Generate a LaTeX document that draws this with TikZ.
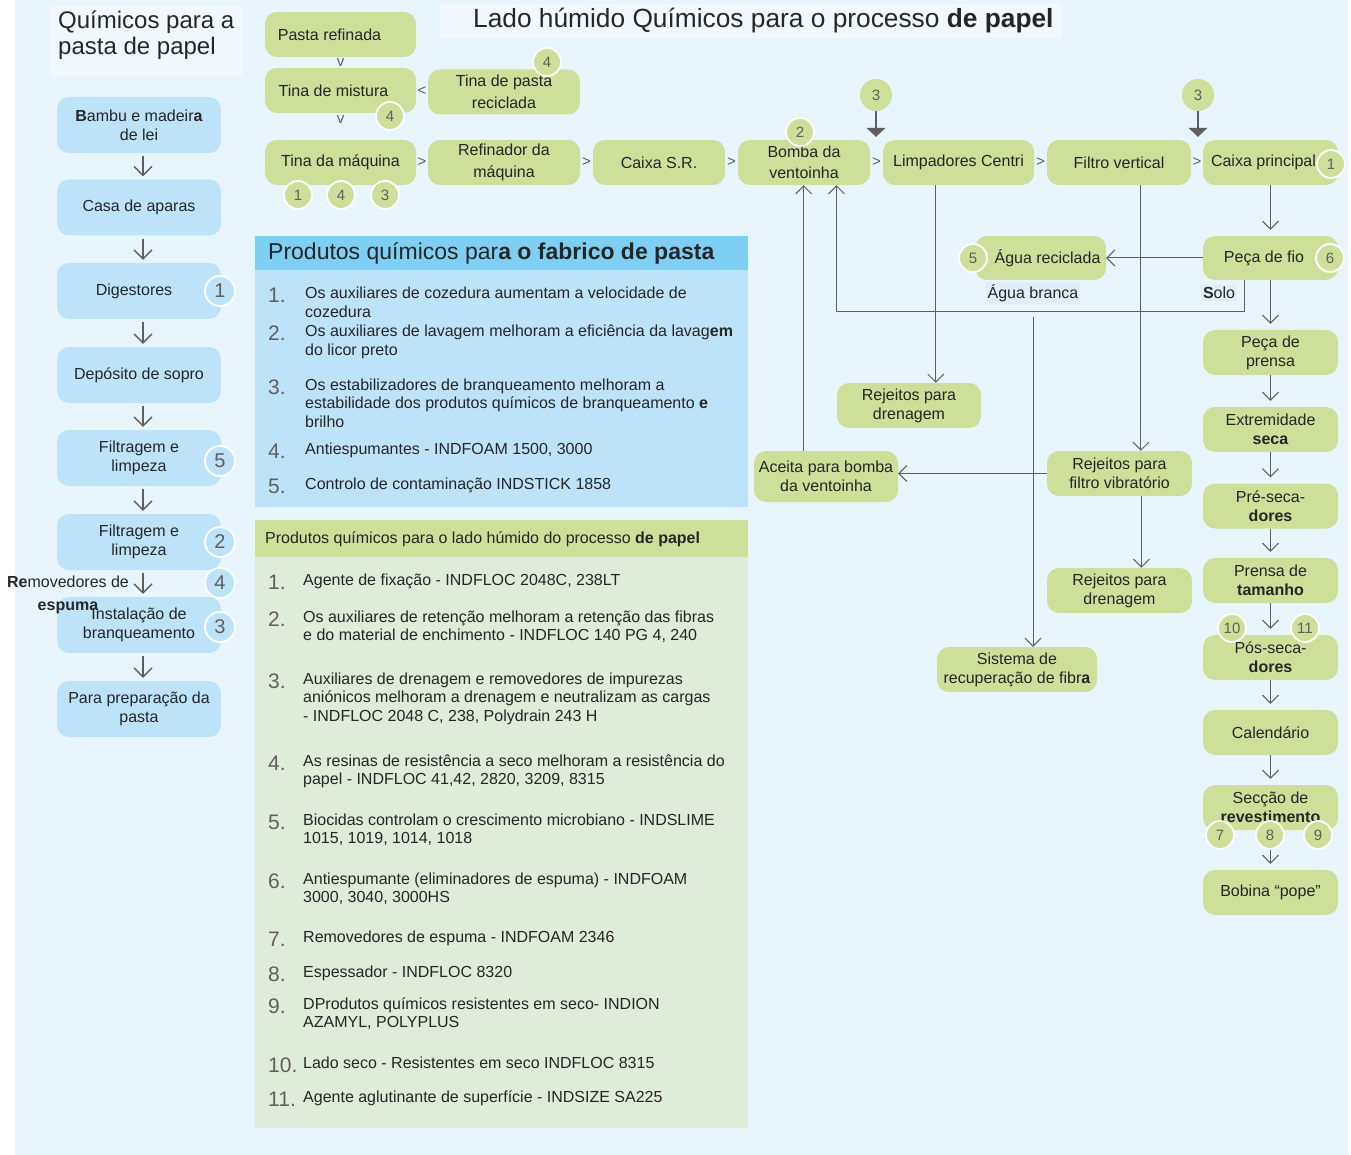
\documentclass[tikz,border=0pt]{standalone}
\usepackage{fontspec}
\setmainfont{Liberation Sans}
\usetikzlibrary{arrows.meta}
\definecolor{pagebg}{RGB}{233,245,253}
\definecolor{titlebg}{RGB}{241,249,254}
\definecolor{tagbg}{RGB}{224,238,250}
\definecolor{pulpblue}{RGB}{189,227,248}
\definecolor{headblue}{RGB}{127,206,244}
\definecolor{wetgreen}{RGB}{205,223,153}
\definecolor{listgreen}{RGB}{223,236,218}
\definecolor{ink}{RGB}{38,38,38}
\definecolor{wire}{RGB}{95,95,95}
\definecolor{digit}{RGB}{95,95,95}

\begin{document}
\begin{tikzpicture}[x=1pt,y=-1pt,
    every node/.style={text=ink,font=\fontsize{16}{19}\selectfont},
    pulp/.style={fill=pulpblue,rounded corners=12pt,minimum width=164pt,minimum height=56pt,align=center,inner sep=2pt},
    wet/.style={fill=wetgreen,rounded corners=12pt,minimum height=45pt,align=center,inner sep=2pt},
    tall/.style={font=\fontsize{16}{21.5}\selectfont},
    pbadge/.style={circle,fill=pulpblue,draw=white,line width=1.8pt,minimum size=30pt,inner sep=0pt,text=digit,font=\fontsize{20}{20}\selectfont},
    wbadge/.style={circle,fill=wetgreen,draw=white,line width=1.8pt,minimum size=28pt,inner sep=0pt,text=digit,font=\fontsize{15}{15}\selectfont},
    dose/.style={circle,fill=wetgreen,minimum size=32pt,inner sep=0pt,text=digit,font=\fontsize{15}{15}\selectfont},
    tag/.style={fill=tagbg,inner sep=2pt},
    chev/.style={text=wire,inner sep=0pt,font=\fontsize{15}{15}\selectfont},
    pdown/.style={draw=wire,line width=1.3pt,-{Straight Barb[length=9pt,width=18pt]},shorten <=3pt,shorten >=3pt},
    flow/.style={draw=wire,line width=1pt,-{Straight Barb[length=8pt,width=16pt]}},
    dosing/.style={draw=wire,line width=1.5pt,-{Triangle[length=9pt,width=19pt]},shorten >=3pt},
    item/.style={anchor=base west,inner sep=0pt,font=\fontsize{16}{18.7}\selectfont},
    num/.style={anchor=base west,inner sep=0pt,text=digit,font=\fontsize{21}{21}\selectfont}]
\useasboundingbox (0,0) rectangle (1351,1155);
\fill[white] (0,0) rectangle (1351,1155);
\fill[pagebg] (15,0) rectangle (1348,1155);
\fill[titlebg] (50,6) rectangle (243,76);
\fill[titlebg] (440,4) rectangle (1062,38);

\node[anchor=north west,align=left,inner sep=0pt,font=\fontsize{24}{26}\selectfont] (ptitle) at (58,11) {Químicos para a\\pasta de papel};
\node[anchor=west,inner sep=0pt,font=\fontsize{26.3}{28}\selectfont] (wtitle) at (473,21) {Lado húmido Químicos para o processo \textbf{de papel}};

\node[pulp] (bam) at (139,125) {\textbf{B}ambu e madeir\textbf{a}\\de lei};
\node[pulp] (casa) at (139,207.5) {Casa de aparas};
\node[pulp] (dig) at (139,291) {\hspace*{-10pt}Digestores};
\node[pulp] (dep) at (139,375) {Depósito de sopro};
\node[pulp] (filt1) at (139,458) {Filtragem e\\limpeza};
\node[pulp] (filt2) at (139,542) {Filtragem e\\limpeza};
\node[pulp] (inst) at (139,625) {Instalação de\\branqueamento};
\node[pulp] (para) at (139,709) {Para preparação da\\pasta};
\foreach \a/\b in {bam/casa,casa/dig,dig/dep,dep/filt1,filt1/filt2,filt2/inst,inst/para}
    \draw[pdown] ([xshift=4pt]\a.south) -- ([xshift=4pt]\b.north);
\node[pbadge] (pb1) at (220,291) {1};
\node[pbadge] (pb5) at (220,461) {5};
\node[pbadge] (pb2) at (220,542) {2};
\node[pbadge] (pb4) at (220,583) {4};
\node[pbadge] (pb3) at (220,627) {3};
\node[align=center,inner sep=0pt,font=\fontsize{16}{23}\selectfont] (foam) at (68,595) {\textbf{Re}movedores de\\\textbf{espuma}};

\node[wet,minimum width=151pt] (pasta) at (340.5,34.5) {\hspace*{-22pt}Pasta refinada};
\node[wet,minimum width=151pt] (mist) at (340.5,90.5) {\hspace*{-14pt}Tina de mistura};
\node[wet,tall,minimum width=152pt] (recic) at (504,92) {Tina de pasta\\reciclada};
\node[wet,minimum width=151pt] (tina) at (340.5,162.5) {Tina da máquina};
\node[wet,tall,minimum width=152pt] (ref) at (504,162.5) {Refinador da\\máquina};
\node[wet,minimum width=132pt] (sr) at (659,162.5) {Caixa S.R.};
\node[wet,tall,minimum width=132pt] (bomba) at (804,162.5) {Bomba da\\ventoinha};
\node[wet,minimum width=151pt] (limp) at (958.5,162.5) {Limpadores Centri};
\node[wet,minimum width=144pt] (filtro) at (1119,162.5) {Filtro vertical};
\node[wet,minimum width=135pt] (caixa) at (1270.5,162.5) {\hspace*{-14pt}Caixa principal};
\path (pasta) -- node[chev] (vpasta) {v} (mist);
\path (mist) -- node[chev,pos=0.25] (vmist) {v} (tina);
\path (mist) -- node[chev] (ltrecic) {<} (recic);
\foreach \a/\b in {tina/ref,ref/sr,sr/bomba,bomba/limp,limp/filtro,filtro/caixa}
    \path (\a) -- node[chev] (gt\a) {>} (\b);

\node[dose] (dlimp) at (876,95) {3};
\node[dose] (dcaixa) at (1198,95) {3};
\draw[dosing] (dlimp) -- (dlimp |- limp.north);
\draw[dosing] (dcaixa) -- (dcaixa |- caixa.north);

\node[wet,minimum width=135pt,minimum height=44pt] (fio) at (1270.5,258) {\hspace*{-13pt}Peça de fio};
\node[wet,minimum width=135pt] (prensa) at (1270.5,352.5) {Peça de\\prensa};
\node[wet,minimum width=135pt] (seca) at (1270.5,429.5) {Extremidade\\\textbf{seca}};
\node[wet,minimum width=135pt] (pre) at (1270.5,506) {Pré-seca-\\\textbf{dores}};
\node[wet,minimum width=135pt] (tam) at (1270.5,580.5) {Prensa de\\\textbf{tamanho}};
\node[wet,minimum width=135pt] (pos) at (1270.5,657.5) {Pós-seca-\\\textbf{dores}};
\node[wet,minimum width=135pt] (cal) at (1270.5,732.5) {Calendário};
\node[wet,minimum width=135pt] (rev) at (1270.5,807.5) {Secção de\\\textbf{revestimento}};
\node[wet,minimum width=135pt] (pope) at (1270.5,892.5) {Bobina “pope”};
\foreach \a/\b in {caixa/fio,fio/prensa,prensa/seca,seca/pre,pre/tam,tam/pos,pos/cal,cal/rev,rev/pope}
    \draw[flow,shorten >=6pt] (\a) -- (\b);

\node[wet,minimum width=131pt,minimum height=44pt] (agua) at (1040.5,258) {Água reciclada\hspace*{-14pt}};
\node[tag] (branca) at (1033,293) {Água branca};
\node[tag] (solo) at (1219,293) {\textbf{S}olo};
\node[wet,minimum width=144pt] (rej1) at (909,405.5) {Rejeitos para\\drenagem};
\node[wet,minimum width=144pt,minimum height=51pt] (aceita) at (826,476.5) {Aceita para bomba\\da ventoinha};
\node[wet,minimum width=145pt] (vib) at (1119.5,473.5) {Rejeitos para\\filtro vibratório};
\node[wet,minimum width=145pt] (rej2) at (1119.5,590.5) {Rejeitos para\\drenagem};
\node[wet,minimum width=160pt] (sist) at (1017,669.5) {Sistema de\\recuperação de fibr\textbf{a}};

\draw[flow] (fio.west) -- (agua.east);
\draw[flow] (fio.-139) -- ++(0,31) -| (bomba.-35);
\draw[flow] (aceita.131) -- (aceita.131 |- bomba.south);
\draw[flow] (limp.-135) -- (limp.-135 |- rej1.north);
\draw[flow] (filtro.-46) -- (filtro.-46 |- vib.north);
\draw[flow] (vib.-46) -- (vib.-46 |- rej2.north);
\draw[flow] (vib.west) -- (vib.west -| aceita.east);
\draw[flow,shorten <=13pt] (branca.south) -- (branca.south |- sist.north);

\node[wbadge] (wb4a) at (390,116) {4};
\node[wbadge] (wb4b) at (547,62) {4};
\node[wbadge] (wb1a) at (298,195) {1};
\node[wbadge] (wb4c) at (341,195) {4};
\node[wbadge] (wb3a) at (385,195) {3};
\node[wbadge] (wb2) at (800,132) {2};
\node[wbadge] (wb1b) at (1331,164) {1};
\node[wbadge] (wb6) at (1330,258) {6};
\node[wbadge] (wb5) at (973,258) {5};
\node[wbadge] (wb10) at (1232,628) {10};
\node[wbadge] (wb11) at (1305,628) {11};
\node[wbadge] (wb7) at (1220,835) {7};
\node[wbadge] (wb8) at (1270,835) {8};
\node[wbadge] (wb9) at (1318,835) {9};

\fill[headblue] (255,236) rectangle (748,270);
\fill[pulpblue] (255,270) rectangle (748,507);
\node[anchor=west,inner sep=0pt,font=\fontsize{23}{23}\selectfont] (phead) at (268,253) {Produtos químicos par\textbf{a o fabrico de pasta}};
\foreach \n/\yb/\txt in {
    1/299/{Os auxiliares de cozedura aumentam a velocidade de\\cozedura},
    2/337/{Os auxiliares de lavagem melhoram a eficiência da lavag\textbf{em}\\do licor preto},
    3/390/{Os estabilizadores de branqueamento melhoram a\\estabilidade dos produtos químicos de branqueamento \textbf{e}\\brilho},
    4/454/{Antiespumantes - INDFOAM 1500, 3000},
    5/489/{Controlo de contaminação INDSTICK 1858}}{
  \node[num] (pn\n) at (268,\yb+4) {\n.};
  \node[item] (pi\n) at (305,\yb) {\begin{tabular}[t]{@{}l@{}}\txt\end{tabular}};
}

\fill[wetgreen] (255,520) rectangle (748,557);
\fill[listgreen] (255,557) rectangle (748,1128);
\node[anchor=west,inner sep=0pt] (whead) at (265,539) {Produtos químicos para o lado húmido do processo \textbf{de papel}};
\foreach \n/\yb/\txt in {
    1/585/{Agente de fixação - INDFLOC 2048C, 238LT},
    2/622/{Os auxiliares de retenção melhoram a retenção das fibras\\e do material de enchimento - INDFLOC 140 PG 4, 240},
    3/684/{Auxiliares de drenagem e removedores de impurezas\\aniónicos melhoram a drenagem e neutralizam as cargas\\- INDFLOC 2048 C, 238, Polydrain 243 H},
    4/766/{As resinas de resistência a seco melhoram a resistência do\\papel - INDFLOC 41,42, 2820, 3209, 8315},
    5/825/{Biocidas controlam o crescimento microbiano - INDSLIME\\1015, 1019, 1014, 1018},
    6/884/{Antiespumante (eliminadores de espuma) - INDFOAM\\3000, 3040, 3000HS},
    7/942/{Removedores de espuma - INDFOAM 2346},
    8/977/{Espessador - INDFLOC 8320},
    9/1009/{DProdutos químicos resistentes em seco- INDION\\AZAMYL, POLYPLUS},
    10/1068/{Lado seco - Resistentes em seco INDFLOC 8315},
    11/1102/{Agente aglutinante de superfície - INDSIZE SA225}}{
  \node[num] (wn\n) at (268,\yb+4) {\n.};
  \node[item] (wi\n) at (303,\yb) {\begin{tabular}[t]{@{}l@{}}\txt\end{tabular}};
}
\end{tikzpicture}
\end{document}
